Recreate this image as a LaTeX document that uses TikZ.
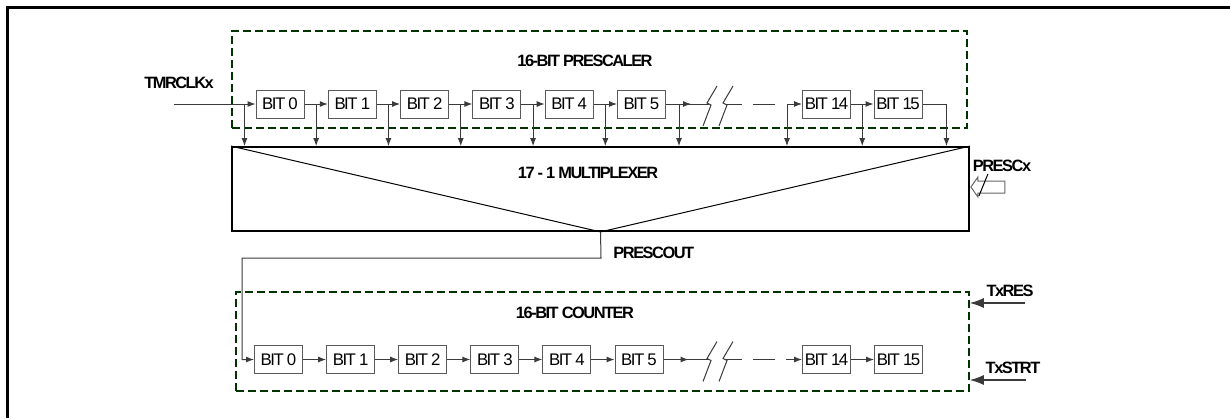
\documentclass[tikz,border=0pt]{standalone}
\usepackage{fontspec}
\setmainfont[LetterSpace=-9]{Liberation Sans}
\usepackage{tikz}
\usetikzlibrary{arrows.meta, positioning, calc}
\definecolor{grpgreen}{HTML}{003300}
\definecolor{wire}{HTML}{3A3A3A}
\tikzset{
    bitbox/.style={rectangle, draw=black!65, line width=0.5pt, minimum width=24pt, minimum height=14pt, inner sep=0pt, font=\fontsize{8.4}{9}\selectfont},
    grpbox/.style={rectangle, draw=grpgreen, line width=0.8pt, dash pattern=on 4pt off 2pt, inner sep=0pt},
    muxbox/.style={rectangle, draw=black, line width=0.9pt, minimum width=368.5pt, minimum height=42pt, inner sep=0pt},
    sig/.style={font=\bfseries\fontsize{8.2}{9}\selectfont, inner sep=0pt},
    wireline/.style={draw=wire, line width=0.5pt},
    wirearrow/.style={-{Latex[length=4pt,width=3pt]}, draw=wire, line width=0.5pt},
    ctrlarrow/.style={-{Latex[length=7pt,width=5pt]}, draw=wire, line width=0.6pt},
    frame/.style={draw=black, line width=1.5pt}
}
\begin{document}
\begin{tikzpicture}[x=0.5pt, y=-0.5pt]
  \useasboundingbox (0,0) rectangle (1230,418);
  \draw[frame] (7,418) -- (7,7) -- (1230,7);
  % prescaler
  \node[grpbox, minimum width=367.5pt, minimum height=48.5pt] (pbox) at (599.5,79.5) {};
  \node[sig] at (585,61) {16-BIT PRESCALER};
  \node[bitbox] (p0) at (280,104) {BIT 0};
  \node[bitbox, right=11.65pt of p0] (p1) {BIT 1};
  \node[bitbox, right=11.65pt of p1] (p2) {BIT 2};
  \node[bitbox, right=11.65pt of p2] (p3) {BIT 3};
  \node[bitbox, right=11.65pt of p3] (p4) {BIT 4};
  \node[bitbox, right=11.65pt of p4] (p5) {BIT 5};
  \node[bitbox] (p14) at (826.5,104) {BIT 14};
  \node[bitbox, right=11.25pt of p14] (p15) {BIT 15};
  \coordinate (clk) at (174,104);
  \node[sig] at (179,83) {TMRCLKx};
  % multiplexer
  \node[muxbox] (mux) at (600.5,189) {};
  \draw[draw=black, line width=0.5pt] (mux.north west) -- (mux.south) -- (mux.north east);
  \node[sig] at (588,173) {17 - 1 MULTIPLEXER};
  \coordinate (prx) at ($(mux.east)+(1,-2)$);
  \draw[draw=black!60, line width=0.5pt] (prx) -- ++(7,-10) -- ++(0,4) -- ++(27,0) -- ++(0,12) -- ++(-27,0) -- ++(0,4) -- cycle;
  \draw[draw=black, line width=0.5pt] ($(prx)+(17,-13)$) -- ($(prx)+(8,9)$);
  \node[sig] at (1002,166) {PRESCx};
  % taps into the multiplexer
  \coordinate (t0) at ($(p0.west)+(-11,0)$);
  \coordinate (t1) at ($(p0.east)!.5!(p1.west)$);
  \coordinate (t2) at ($(p1.east)!.5!(p2.west)$);
  \coordinate (t3) at ($(p2.east)!.5!(p3.west)$);
  \coordinate (t4) at ($(p3.east)!.5!(p4.west)$);
  \coordinate (t5) at ($(p4.east)!.5!(p5.west)$);
  \coordinate (t6) at ($(p5.east)+(13,0)$);
  \coordinate (t14) at ($(p14.west)+(-15,0)$);
  \coordinate (t15) at ($(p14.east)!.5!(p15.west)$);
  \coordinate (t16) at ($(p15.east)+(24,0)$);
  \draw[wirearrow] (clk) -- (p0);
  \draw[wirearrow] (p0) -- (p1);
  \draw[wirearrow] (p1) -- (p2);
  \draw[wirearrow] (p2) -- (p3);
  \draw[wirearrow] (p3) -- (p4);
  \draw[wirearrow] (p4) -- (p5);
  \draw[wirearrow] (p5.east) -- ++(25,0);
  \coordinate (b1) at (709,104);
  \draw[wireline] (p5.east) -- (b1);
  \draw[wireline] (b1) ++(8,-18) -- ++(-10,17) -- ++(4,2) -- ++(-8,21);
  \draw[wireline] ($(b1)+(16,0)$) ++(8,-18) -- ++(-10,17) -- ++(4,2) -- ++(-8,21);
  \draw[wireline] ($(b1)+(16,0)$) -- ++(17,0);
  \draw[wireline] ($(b1)+(44,0)$) -- ++(22,0);
  \draw[wirearrow] (t14) -- (p14);
  \draw[wirearrow] (p14) -- (p15);
  \draw[wireline] (p15.east) -- (t16);
  \draw[wirearrow] (t0) -- (t0 |- mux.north);
  \draw[wirearrow] (t1) -- (t1 |- mux.north);
  \draw[wirearrow] (t2) -- (t2 |- mux.north);
  \draw[wirearrow] (t3) -- (t3 |- mux.north);
  \draw[wirearrow] (t4) -- (t4 |- mux.north);
  \draw[wirearrow] (t5) -- (t5 |- mux.north);
  \draw[wirearrow] (t6) -- (t6 |- mux.north);
  \draw[wirearrow] (t14) -- (t14 |- mux.north);
  \draw[wirearrow] (t15) -- (t15 |- mux.north);
  \draw[wirearrow] (t16) -- (t16 |- mux.north);
  % counter
  \node[grpbox, minimum width=366.5pt, minimum height=49.5pt] (cbox) at (602.5,341.5) {};
  \node[sig] at (575,313) {16-BIT COUNTER};
  \node[bitbox] (c0) at (278.5,359.5) {BIT 0};
  \node[bitbox, right=11.55pt of c0] (c1) {BIT 1};
  \node[bitbox, right=11.55pt of c1] (c2) {BIT 2};
  \node[bitbox, right=11.55pt of c2] (c3) {BIT 3};
  \node[bitbox, right=11.55pt of c3] (c4) {BIT 4};
  \node[bitbox, right=11.55pt of c4] (c5) {BIT 5};
  \node[bitbox] (c14) at (826.5,359.5) {BIT 14};
  \node[bitbox, right=11.5pt of c14] (c15) {BIT 15};
  \coordinate (pout) at (601,258);
  \coordinate (pin) at (242,258);
  \node[sig, anchor=west] at (613,253) {PRESCOUT};
  \draw[wirearrow] (mux.south) -- (pout) -- (pin) |- (c0.west);
  \draw[wirearrow] (c0) -- (c1);
  \draw[wirearrow] (c1) -- (c2);
  \draw[wirearrow] (c2) -- (c3);
  \draw[wirearrow] (c3) -- (c4);
  \draw[wirearrow] (c4) -- (c5);
  \draw[wirearrow] (c5.east) -- ++(25,0);
  \coordinate (b2) at (709,359.5);
  \draw[wireline] (c5.east) -- (b2);
  \draw[wireline] (b2) ++(8,-18) -- ++(-10,17) -- ++(4,2) -- ++(-8,21);
  \draw[wireline] ($(b2)+(16,0)$) ++(8,-18) -- ++(-10,17) -- ++(4,2) -- ++(-8,21);
  \draw[wireline] ($(b2)+(16,0)$) -- ++(17,0);
  \draw[wireline] ($(b2)+(44,0)$) -- ++(22,0);
  \coordinate (u14) at ($(c14.west)+(-16,0)$);
  \draw[wirearrow] (u14) -- (c14);
  \draw[wirearrow] (c14) -- (c15);
  \coordinate (res) at (1025,303);
  \coordinate (strt) at (1026,380);
  \draw[ctrlarrow] (res) -- (res -| cbox.east);
  \draw[ctrlarrow] (strt) -- (strt -| cbox.east);
  \node[sig] at (1010,291) {TxRES};
  \node[sig] at (1013,368) {TxSTRT};
\end{tikzpicture}
\end{document}
